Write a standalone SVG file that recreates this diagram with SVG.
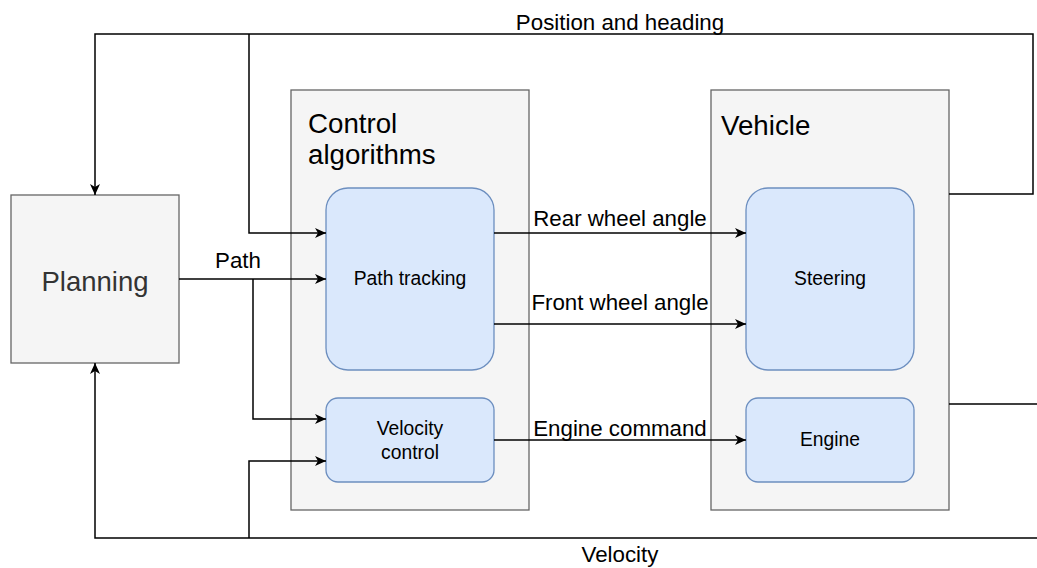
<svg xmlns="http://www.w3.org/2000/svg" width="1037" height="568" viewBox="0 0 1037 568">
  <style>
    .box { fill: #f5f5f5; stroke: #666666; stroke-width: 1.3; }
    .blk { fill: #dae8fc; stroke: #6c8ebf; stroke-width: 1.3; }
    .wire { fill: none; stroke: #000000; stroke-width: 1.5; }
    .lbl { font-family: "Liberation Sans", Arial, sans-serif; font-size: 22.3px; fill: #000000; text-anchor: middle; }
    .ttl { font-family: "Liberation Sans", Arial, sans-serif; font-size: 27.7px; fill: #000000; }
    .inner { font-family: "Liberation Sans", Arial, sans-serif; font-size: 19.3px; fill: #000000; text-anchor: middle; }
  </style>
  <defs>
    <marker id="arrow" viewBox="0 0 11 10" refX="11" refY="5" markerWidth="11" markerHeight="10" markerUnits="userSpaceOnUse" orient="auto">
      <path d="M0,0 L11,5 L0,10 L3,5 Z" fill="#000000"/>
    </marker>
  </defs>
  <rect width="1037" height="568" fill="#ffffff"/>

  <g id="planning">
    <rect class="box" x="11" y="195" width="168" height="168"/>
    <text x="95" y="291" style="font-family: 'Liberation Sans', Arial, sans-serif; font-size: 27.5px; fill: #333333; text-anchor: middle;">Planning</text>
  </g>

  <g id="control-algorithms">
    <rect class="box" x="291" y="90" width="238" height="420"/>
    <text class="ttl" x="308" y="133">Control</text>
    <text class="ttl" x="308" y="164">algorithms</text>
  </g>

  <g id="vehicle">
    <rect class="box" x="711" y="90" width="238" height="420"/>
    <text class="ttl" x="721" y="135">Vehicle</text>
  </g>

  <g id="path-tracking">
    <rect class="blk" x="326" y="188" width="168" height="182" rx="22"/>
    <text class="inner" x="410" y="285">Path tracking</text>
  </g>

  <g id="velocity-control">
    <rect class="blk" x="326" y="398" width="168" height="84" rx="12"/>
    <text class="inner" x="410" y="435">Velocity</text>
    <text class="inner" x="410" y="459">control</text>
  </g>

  <g id="steering">
    <rect class="blk" x="746" y="188" width="168" height="182" rx="22"/>
    <text class="inner" x="830" y="285">Steering</text>
  </g>

  <g id="engine">
    <rect class="blk" x="746" y="398" width="168" height="84" rx="12"/>
    <text class="inner" x="830" y="446">Engine</text>
  </g>

  <g id="connectors">
    <!-- position and heading feedback -->
    <polyline class="wire" points="949,194 1033,194 1033,34 95,34 95,195" marker-end="url(#arrow)"/>
    <polyline class="wire" points="249,34 249,233 326,233" marker-end="url(#arrow)"/>
    <!-- path -->
    <polyline class="wire" points="179,279 326,279" marker-end="url(#arrow)"/>
    <polyline class="wire" points="253,279 253,419 326,419" marker-end="url(#arrow)"/>
    <!-- actuator commands -->
    <polyline class="wire" points="494,233 746,233" marker-end="url(#arrow)"/>
    <polyline class="wire" points="494,324 746,324" marker-end="url(#arrow)"/>
    <polyline class="wire" points="494,440 746,440" marker-end="url(#arrow)"/>
    <!-- velocity feedback -->
    <polyline class="wire" points="949,404 1045,404 1045,538 95,538 95,363" marker-end="url(#arrow)"/>
    <polyline class="wire" points="249,538 249,461 326,461" marker-end="url(#arrow)"/>

    <text class="lbl" x="620" y="30">Position and heading</text>
    <text class="lbl" x="238" y="268">Path</text>
    <text class="lbl" x="620" y="226">Rear wheel angle</text>
    <text class="lbl" x="620" y="310">Front wheel angle</text>
    <text class="lbl" x="620" y="436">Engine command</text>
    <text class="lbl" x="620" y="562">Velocity</text>
  </g>
</svg>
